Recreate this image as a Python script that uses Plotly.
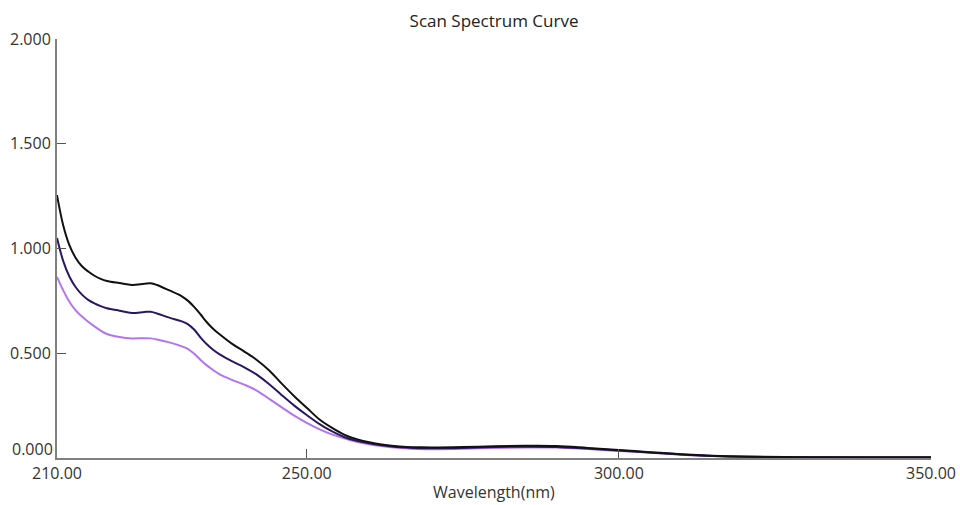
import plotly.graph_objects as go

wavelength = [210, 211, 212, 213, 214, 215, 216, 217, 218, 220, 222, 224, 225, 226, 228, 230,
              231, 232, 233, 234, 235, 236, 238, 240, 242, 244, 246, 248, 250, 252, 254, 256,
              258, 260, 262, 264, 266, 268, 270, 275, 280, 285, 290, 295, 300, 305, 310, 315,
              320, 330, 340, 350]

black_curve = [1.255, 1.11, 1.015, 0.955, 0.915, 0.89, 0.87, 0.855, 0.845, 0.835, 0.826, 0.832,
               0.834, 0.826, 0.80, 0.772, 0.75, 0.72, 0.685, 0.648, 0.617, 0.592, 0.546, 0.508,
               0.468, 0.418, 0.355, 0.295, 0.24, 0.185, 0.145, 0.112, 0.09, 0.075, 0.064, 0.057,
               0.053, 0.051, 0.05, 0.052, 0.056, 0.058, 0.057, 0.048, 0.038, 0.028, 0.018, 0.011,
               0.007, 0.004, 0.003, 0.003]

dark_purple_curve = [1.05, 0.94, 0.865, 0.815, 0.78, 0.755, 0.738, 0.725, 0.715, 0.703, 0.692,
                     0.697, 0.698, 0.69, 0.67, 0.652, 0.638, 0.612, 0.575, 0.543, 0.517, 0.496,
                     0.462, 0.433, 0.398, 0.352, 0.30, 0.25, 0.205, 0.163, 0.128, 0.10, 0.082,
                     0.07, 0.061, 0.054, 0.05, 0.047, 0.046, 0.048, 0.052, 0.054, 0.053, 0.045,
                     0.036, 0.026, 0.017, 0.01, 0.006, 0.003, 0.002, 0.002]

light_purple_curve = [0.865, 0.80, 0.745, 0.705, 0.675, 0.65, 0.628, 0.608, 0.592, 0.578, 0.571,
                      0.572, 0.571, 0.566, 0.552, 0.533, 0.52, 0.497, 0.468, 0.442, 0.42, 0.40,
                      0.373, 0.35, 0.322, 0.282, 0.242, 0.202, 0.168, 0.138, 0.113, 0.094, 0.078,
                      0.066, 0.057, 0.05, 0.046, 0.043, 0.042, 0.044, 0.048, 0.05, 0.05, 0.043,
                      0.034, 0.025, 0.016, 0.009, 0.005, 0.003, 0.002, 0.002]

x_tick_values = [210, 250, 300, 350]
x_tick_labels = ["210.00", "250.00", "300.00", "350.00"]
y_tick_values = [0.5, 1.0, 1.5, 2.0]
y_tick_labels = ["0.500", "1.000", "1.500", "2.000"]
y_origin_label = "0.000"

series = [
    ("Sample 3", light_purple_curve, "#b374f2"),
    ("Sample 2", dark_purple_curve, "#2a1763"),
    ("Sample 1", black_curve, "#111111"),
]

fig = go.Figure()
for name, values, color in series:
    fig.add_trace(go.Scatter(
        x=wavelength, y=values, mode="lines", name=name,
        line=dict(color=color, width=2, shape="spline", smoothing=1.0),
        showlegend=False,
    ))

FONT = "Open Sans, DejaVu Sans, sans-serif"
axis_font = dict(family=FONT, size=16, color="#333333")

fig.update_layout(
    width=960, height=505,
    margin=dict(l=57, r=29, t=39, b=47, autoexpand=False),
    paper_bgcolor="white", plot_bgcolor="white",
    font=axis_font,
    title=dict(text="Scan Spectrum Curve", x=0.5, xanchor="center", xref="paper",
               y=1 - 21 / 505, yanchor="middle", yref="container",
               font=dict(family=FONT, size=17, color="#222222")),
    xaxis=dict(
        range=[210, 350], tickvals=x_tick_values, ticktext=x_tick_labels,
        showgrid=False, zeroline=False, showline=True, linecolor="#808080", linewidth=2,
        ticks="inside", ticklen=9, tickcolor="#555555", tickwidth=1,
        tickfont=axis_font, automargin=False,
    ),
    yaxis=dict(
        range=[0, 2.0], tickvals=y_tick_values, ticktext=y_tick_labels,
        showgrid=False, zeroline=False, showline=True, linecolor="#808080", linewidth=2,
        ticks="inside", ticklen=9, tickcolor="#555555", tickwidth=1,
        tickfont=axis_font, ticklabelstandoff=1, automargin=False,
    ),
    annotations=[
        dict(text="Wavelength(nm)", xref="paper", yref="paper", x=0.5, y=0,
             xanchor="center", yanchor="middle", yshift=-34, showarrow=False,
             font=dict(family=FONT, size=16, color="#333333")),
        dict(text=y_origin_label, xref="paper", yref="y", x=0, y=0,
             xanchor="right", yanchor="middle", xshift=-2, yshift=9, showarrow=False,
             font=axis_font),
    ],
)

fig.write_html("out.html")
